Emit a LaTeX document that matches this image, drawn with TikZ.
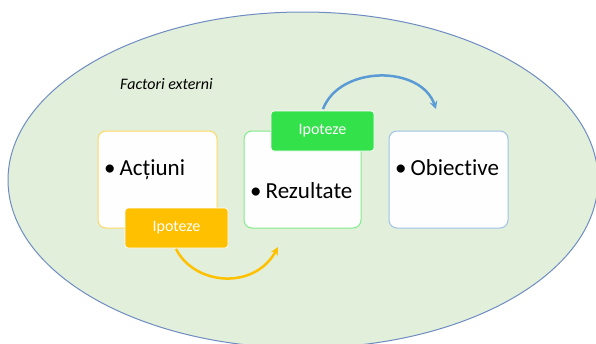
\documentclass[tikz,border=0pt]{standalone}
\usepackage{fontspec}
\setmainfont{Carlito}[Ligatures=NoCommon]
\usetikzlibrary{arrows.meta}
\definecolor{ellfill}{RGB}{226,239,218}
\definecolor{elldraw}{RGB}{110,140,195}
\definecolor{yel}{RGB}{255,192,0}
\definecolor{yelline}{RGB}{255,217,102}
\definecolor{grn}{RGB}{51,225,75}
\definecolor{grnline}{RGB}{130,235,140}
\definecolor{blu}{RGB}{91,155,213}
\definecolor{bluline}{RGB}{157,195,230}
\definecolor{boxfill}{RGB}{253,254,253}
\tikzset{
  mainbox/.style={draw=#1, line width=1pt, fill=boxfill, rounded corners=8pt},
  hypbox/.style={fill=#1, draw=white, line width=0.8pt, rounded corners=3pt},
  hyptext/.style={text=white, font=\fontsize{16}{18}\selectfont},
  boxtext/.style={anchor=base west, inner sep=0pt, font=\fontsize{23}{26}\selectfont},
  arc/.style={line width=2.5pt, draw=#1, -{Stealth[length=8pt,width=8pt,inset=3pt]}}
}
\begin{document}
\begin{tikzpicture}[x=1pt,y=-1pt]
\useasboundingbox (0,0) rectangle (596,343);
\begin{scope}
\clip (0,0) rectangle (596,343);
\draw[fill=ellfill, draw=elldraw, line width=1pt] (303,180) ellipse [x radius=295, y radius=168];
\end{scope}
\node[font=\fontsize{16}{18}\selectfont\itshape, anchor=base west, inner sep=0pt] (fe) at (120,89) {Factori externi};
% main boxes
\draw[mainbox=yelline] (98,131) rectangle (217,228);
\draw[mainbox=grnline] (244,131) rectangle (361,228);
\draw[mainbox=bluline] (389,131) rectangle (508,228);
\node[boxtext] (ta) at (104,175) {•\hspace{4pt}Acțiuni};
\node[boxtext] (tr) at (250,198) {•\hspace{4pt}Rezultate};
\node[boxtext] (to) at (395,175) {•\hspace{4pt}Obiective};
% hypothesis boxes
\draw[hypbox=yel] (125,208) rectangle (228,248);
\node[hyptext] (h1) at (176.5,228) {Ipoteze};
\draw[hypbox=grn] (271,111) rectangle (374,151);
\node[hyptext] (h2) at (322.5,131) {Ipoteze};
% arcs
\coordinate (y1) at (176,249);
\coordinate (y2) at (278,247);
\draw[arc=yel] (y1) .. controls (195,286) and (255,290) .. (y2);
\coordinate (b1) at (323,109);
\coordinate (b2) at (436,109);
\draw[arc=blu] (b1) .. controls (340,65) and (421,65) .. (b2);
\end{tikzpicture}
\end{document}
